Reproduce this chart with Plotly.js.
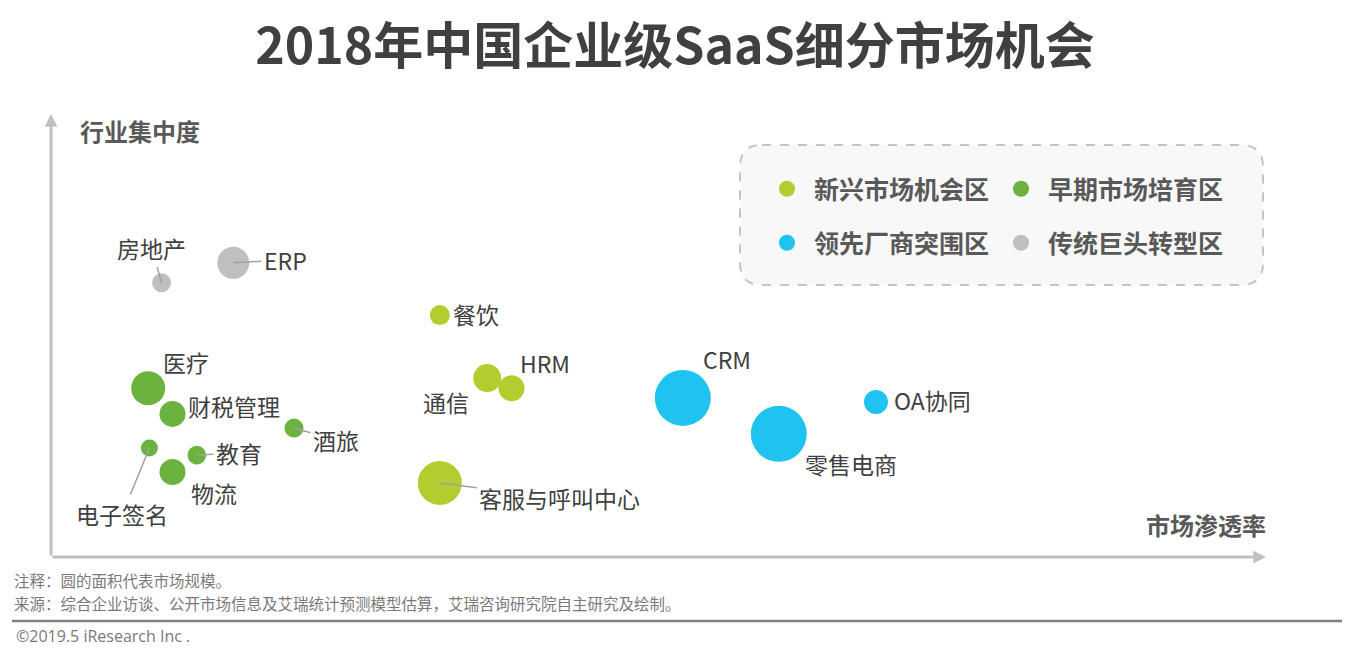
<!DOCTYPE html>
<html>
<head>
<meta charset="utf-8">
<script src="https://cdn.plot.ly/plotly-3.0.1.min.js"></script>
<style>
html,body{margin:0;padding:0;background:#fff;}
#chart{width:1355px;height:655px;}
</style>
</head>
<body>
<div id="chart"></div>
<script>
// ---- Data ----
const categories = ['新兴市场机会区', '早期市场培育区', '领先厂商突围区', '传统巨头转型区'];

const names_emerging = ['餐饮', '通信', 'HRM', '客服与呼叫中心'];
const pen_emerging   = [32.0, 35.9, 37.9, 32.0];   // 市场渗透率
const conc_emerging  = [54.6, 40.4, 38.1, 16.7];   // 行业集中度
const size_emerging  = [100, 196, 169, 484];       // 市场规模 (relative, circle area)

const names_early = ['医疗', '财税管理', '酒旅', '电子签名', '教育', '物流'];
const pen_early   = [8.0, 10.0, 20.0, 8.1, 12.0, 10.0];
const conc_early  = [38.1, 32.3, 29.1, 24.6, 23.0, 19.2];
const size_early  = [289, 169, 90, 72, 86, 169];

const names_leader = ['CRM', '零售电商', 'OA协同'];
const pen_leader   = [52.0, 59.9, 67.9];
const conc_leader  = [35.9, 27.8, 35.0];
const size_leader  = [784, 784, 144];

const names_legacy = ['房地产', 'ERP'];
const pen_legacy   = [9.1, 15.0];
const conc_legacy  = [61.9, 66.4];
const size_legacy  = [90, 256];

const titleText = '2018年中国企业级SaaS细分市场机会';
const yTitle = '行业集中度';
const xTitle = '市场渗透率';
const note1 = '注释：圆的面积代表市场规模。';
const note2 = '来源：综合企业访谈、公开市场信息及艾瑞统计预测模型估算，艾瑞咨询研究院自主研究及绘制。';
const copyright = '©2019.5 iResearch Inc .';

// ---- Styling / layout helpers ----
const colors = ['#b5cc2e', '#6cb23f', '#1fc3ef', '#bfbfbf'];
const CJK = '"Noto Sans CJK SC", "Noto Sans", sans-serif';
const W = 1355, H = 655;
const M = {l: 51, r: 89, t: 114, b: 98};
const PW = W - M.l - M.r, PH = H - M.t - M.b;
const px2x = p => (p - M.l) / PW;        // pixel -> paper x
const py2y = p => (H - M.b - p) / PH;    // pixel -> paper y

// label placement (pixel offsets of the label centre from the bubble centre) and leader line flag
const labelPlace = {
  '房地产': [-10, -35, true], 'ERP': [52, -3, true],
  '餐饮': [36, -1, false], '通信': [-41, 24, false], 'HRM': [34, -25, false],
  '客服与呼叫中心': [120, 15, true],
  'CRM': [44, -39, false], '零售电商': [72, 30, false], 'OA协同': [57, -2, false],
  '医疗': [38, -26, false], '财税管理': [61, -8, false], '酒旅': [42, 12, true],
  '电子签名': [-27, 66, true], '教育': [42, -2, true], '物流': [41, 21, false]
};

const groups = [
  {names: names_emerging, x: pen_emerging, y: conc_emerging, s: size_emerging, legend: 'legend'},
  {names: names_early, x: pen_early, y: conc_early, s: size_early, legend: 'legend'},
  {names: names_leader, x: pen_leader, y: conc_leader, s: size_leader, legend: 'legend2'},
  {names: names_legacy, x: pen_legacy, y: conc_legacy, s: size_legacy, legend: 'legend2'}
];

const traces = groups.map((g, i) => ({
  type: 'scatter', mode: 'markers',
  name: categories[i], legend: g.legend,
  x: g.x, y: g.y, text: g.names,
  marker: {size: g.s, sizemode: 'area', sizeref: 0.5, color: colors[i], line: {width: 0}, opacity: 1},
  hovertemplate: '%{text}<extra></extra>'
}));

const annotations = [];
groups.forEach(g => {
  g.names.forEach((n, j) => {
    const p = labelPlace[n];
    const a = {
      x: g.x[j], y: g.y[j], xref: 'x', yref: 'y', text: n,
      font: {family: CJK, size: 23, color: '#404040'}
    };
    if (p[2]) {
      Object.assign(a, {showarrow: true, ax: p[0], ay: p[1], arrowhead: 0,
        arrowcolor: '#a0a0a0', arrowwidth: 1.5, standoff: 0, borderpad: 2});
    } else {
      Object.assign(a, {showarrow: false, xshift: p[0], yshift: -p[1]});
    }
    annotations.push(a);
  });
});

// axis arrows
annotations.push({x: 0, y: 100, xref: 'x', yref: 'y', axref: 'x', ayref: 'y', ax: 0, ay: 0,
  text: '', showarrow: true, arrowhead: 2, arrowsize: 0.85, arrowwidth: 3, arrowcolor: '#c0c0c0'});
annotations.push({x: 100, y: 0, xref: 'x', yref: 'y', axref: 'x', ayref: 'y', ax: 0, ay: 0,
  text: '', showarrow: true, arrowhead: 2, arrowsize: 0.85, arrowwidth: 3, arrowcolor: '#c0c0c0'});

// axis titles
annotations.push({xref: 'paper', yref: 'paper', x: px2x(78), y: py2y(130), xanchor: 'left', yanchor: 'middle',
  text: '<b>' + yTitle + '</b>', showarrow: false, font: {family: CJK, size: 24, color: '#595959'}});
annotations.push({xref: 'paper', yref: 'paper', x: px2x(1268), y: py2y(524), xanchor: 'right', yanchor: 'middle',
  text: '<b>' + xTitle + '</b>', showarrow: false, font: {family: CJK, size: 24, color: '#595959'}});

// footnotes
annotations.push({xref: 'paper', yref: 'paper', x: px2x(13), y: py2y(580), xanchor: 'left', yanchor: 'middle',
  text: note1, showarrow: false, borderpad: 0, font: {family: CJK, size: 15.5, color: '#7a7a7a'}});
annotations.push({xref: 'paper', yref: 'paper', x: px2x(13), y: py2y(603), xanchor: 'left', yanchor: 'middle',
  text: note2, showarrow: false, borderpad: 0, font: {family: CJK, size: 15.5, color: '#7a7a7a'}});
annotations.push({xref: 'paper', yref: 'paper', x: px2x(14), y: py2y(636), xanchor: 'left', yanchor: 'middle',
  text: copyright, showarrow: false, font: {family: '"Open Sans", "Noto Sans", sans-serif', size: 16, color: '#7a7a7a'}});

// legend box (rounded, dashed)
function roundRectPath(x0, y0, x1, y1, r) {
  const X = px2x, Y = py2y;
  return 'M' + X(x0 + r) + ',' + Y(y0) +
    ' L' + X(x1 - r) + ',' + Y(y0) +
    ' Q' + X(x1) + ',' + Y(y0) + ' ' + X(x1) + ',' + Y(y0 + r) +
    ' L' + X(x1) + ',' + Y(y1 - r) +
    ' Q' + X(x1) + ',' + Y(y1) + ' ' + X(x1 - r) + ',' + Y(y1) +
    ' L' + X(x0 + r) + ',' + Y(y1) +
    ' Q' + X(x0) + ',' + Y(y1) + ' ' + X(x0) + ',' + Y(y1 - r) +
    ' L' + X(x0) + ',' + Y(y0 + r) +
    ' Q' + X(x0) + ',' + Y(y0) + ' ' + X(x0 + r) + ',' + Y(y0) + ' Z';
}

const shapes = [
  {type: 'path', xref: 'paper', yref: 'paper', path: roundRectPath(740, 145, 1263, 285, 22),
   fillcolor: '#f8f8f8', line: {color: '#c4c4c4', width: 2, dash: 'dash'}, layer: 'below'},
  {type: 'line', xref: 'paper', yref: 'paper', x0: px2x(12), x1: px2x(1342), y0: py2y(621), y1: py2y(621),
   line: {color: '#808080', width: 2.5}}
];

const legendCommon = {
  orientation: 'h', xanchor: 'left', yanchor: 'middle',
  bgcolor: 'rgba(0,0,0,0)', borderwidth: 0,
  font: {family: CJK, size: 25, color: '#595959', weight: 'bold'},
  itemwidth: 44,
  entrywidth: 175, entrywidthmode: 'pixels', itemsizing: 'trace', itemclick: false, itemdoubleclick: false
};

const layout = {
  width: W, height: H,
  margin: M,
  paper_bgcolor: '#ffffff', plot_bgcolor: 'rgba(0,0,0,0)',
  title: {text: '<b>' + titleText + '</b>', xref: 'container', yref: 'container',
          x: 675 / W, y: 1 - 46 / H, xanchor: 'center', yanchor: 'middle',
          font: {family: CJK, size: 50, color: '#404040'}},
  xaxis: {range: [0, 100], showgrid: false, zeroline: false, showline: false, showticklabels: false, ticks: '', fixedrange: true},
  yaxis: {range: [0, 100], showgrid: false, zeroline: false, showline: false, showticklabels: false, ticks: '', fixedrange: true},
  showlegend: true,
  legend: Object.assign({}, legendCommon, {x: px2x(760), y: py2y(189)}),
  legend2: Object.assign({}, legendCommon, {x: px2x(760), y: py2y(243)}),
  annotations: annotations,
  shapes: shapes,
  hovermode: 'closest'
};

Plotly.newPlot('chart', traces, layout, {displayModeBar: false, staticPlot: false});
</script>
</body>
</html>
